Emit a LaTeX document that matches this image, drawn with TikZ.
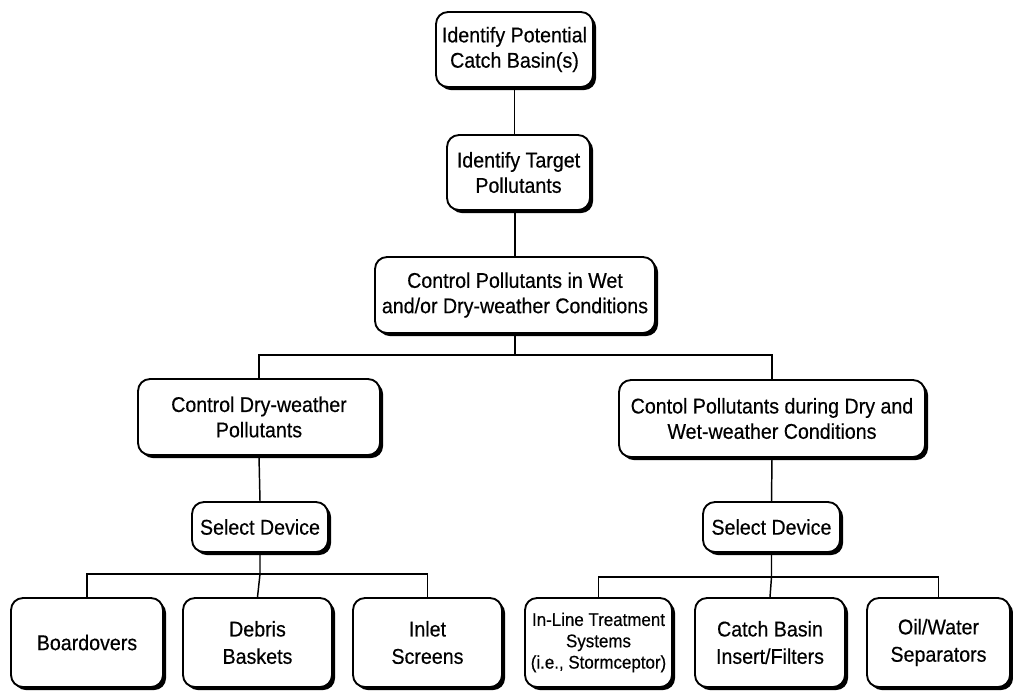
\documentclass[tikz,border=0pt]{standalone}
\usepackage{fontspec}
\setmainfont{Liberation Sans}[FakeStretch=0.92,FakeBold=0.4]
\usetikzlibrary{shadows}
\begin{document}
\begin{tikzpicture}[x=0.75pt,y=-0.75pt,
  box/.style 2 args={draw, line width=1.4pt, rounded corners=9pt, fill=white,
    align=center, inner sep=0pt, minimum width=#1*0.75pt, minimum height=#2*0.75pt,
    font=\fontsize{16}{19}\selectfont,
    drop shadow={shadow xshift=2.3pt, shadow yshift=-2.3pt, fill=black, opacity=1}},
  leaf/.style={font=\fontsize{16}{20.5}\selectfont},
  small/.style={font=\fontsize{13.8}{16}\selectfont},
  link/.style={line width=1.1pt}]
\useasboundingbox (0,0) rectangle (1013,693);
\node[box={157}{75}] (A) at (514.5,49.5) {Identify Potential\\Catch Basin(s)};
\node[box={143}{75}] (B) at (518.5,172.5) {Identify Target\\Pollutants};
\node[box={280}{76}] (C) at (515,295) {Control Pollutants in Wet\\and/or Dry-weather Conditions};
\node[box={242}{76}] (D) at (259,417) {Control Dry-weather\\Pollutants};
\node[box={306}{77}] (E) at (772,418.5) {Contol Pollutants during Dry and\\Wet-weather Conditions};
\node[box={136}{50}] (F) at (260,527) {Select Device};
\node[box={137}{50}] (G) at (771.5,527) {Select Device};
\node[box={152}{89},leaf] (H1) at (87,642.5) {Boardovers};
\node[box={149}{89},leaf] (H2) at (257.5,642.5) {Debris\\Baskets};
\node[box={149}{89},leaf] (H3) at (427.5,642.5) {Inlet\\Screens};
\node[box={147}{89},small] (I1) at (598.5,642.5) {In-Line Treatment\\Systems\\(i.e., Stormceptor)};
\node[box={150}{89},leaf] (I2) at (770,642.5) {Catch Basin\\Insert/Filters};
\node[box={143}{89},leaf] (I3) at (938.5,642.5) {Oil/Water\\Separators};
\coordinate (j1) at (515,355);
\coordinate (j2) at (260,574);
\coordinate (j3) at (771.5,577);
\draw[link] (A.south) -- (A.south |- B.north);
\draw[link] (B.south -| C.north) -- (C.north);
\draw[link] (C.south) -- (j1);
\draw[link] (D.north) -- (D.north |- j1) -- (E.north |- j1) -- (E.north);
\draw[link] (D.south) -- (F.north);
\draw[link] (E.south) -- (G.north);
\draw[link] (F.south) -- (j2) -- (H2.north);
\draw[link] (H1.north) -- (H1.north |- j2) -- (H3.north |- j2) -- (H3.north);
\draw[link] (G.south) -- (j3) -- (I2.north);
\draw[link] (I1.north) -- (I1.north |- j3) -- (I3.north |- j3) -- (I3.north);
\end{tikzpicture}
\end{document}
